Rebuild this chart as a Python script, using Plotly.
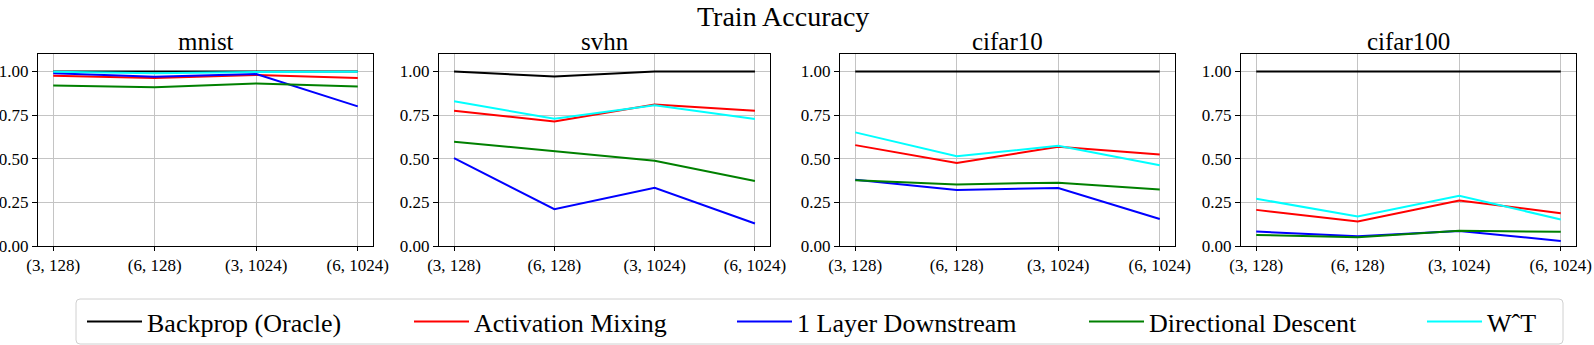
import plotly.graph_objects as go

W, H = 1594, 345

configs = ["(3, 128)", "(6, 128)", "(3, 1024)", "(6, 1024)"]
datasets = ["mnist", "svhn", "cifar10", "cifar100"]

# one row per dataset: mnist, svhn, cifar10, cifar100
backprop = [
    [1.000, 1.000, 1.000, 1.000],
    [1.000, 0.971, 1.000, 1.000],
    [1.000, 1.000, 1.000, 1.000],
    [1.000, 1.000, 1.000, 1.000],
]
act_mixing = [
    [0.975, 0.962, 0.980, 0.963],
    [0.775, 0.714, 0.810, 0.775],
    [0.578, 0.476, 0.568, 0.524],
    [0.207, 0.140, 0.261, 0.188],
]
one_layer = [
    [0.990, 0.969, 0.985, 0.800],
    [0.503, 0.211, 0.334, 0.129],
    [0.380, 0.321, 0.332, 0.155],
    [0.083, 0.056, 0.086, 0.029],
]
directional = [
    [0.919, 0.910, 0.931, 0.914],
    [0.597, 0.543, 0.489, 0.372],
    [0.376, 0.353, 0.363, 0.324],
    [0.063, 0.050, 0.088, 0.081],
]
w_t = [
    [0.998, 0.990, 0.997, 0.998],
    [0.829, 0.729, 0.806, 0.727],
    [0.651, 0.514, 0.574, 0.463],
    [0.271, 0.169, 0.288, 0.152],
]

methods = [
    ("Backprop (Oracle)", backprop, "#000000"),
    ("Activation Mixing", act_mixing, "#ff0000"),
    ("1 Layer Downstream", one_layer, "#0000ff"),
    ("Directional Descent", directional, "#008000"),
    ("W\u02c6T", w_t, "#00ffff"),
]

FONT = "Liberation Serif"

# panel edges in pixels
panels_px = [(38, 373), (439, 770), (840, 1175), (1241, 1576)]
y_dom = [1 - 246 / H, 1 - 54 / H]
legend_px = [82, 409, 732, 1084, 1422]

fig = go.Figure()

for i, ds in enumerate(datasets):
    sfx = "" if i == 0 else str(i + 1)
    for j, (name, vals, col) in enumerate(methods):
        lg = "legend" if j == 0 else "legend" + str(j + 1)
        fig.add_trace(go.Scatter(
            x=configs, y=vals[i], mode="lines", name=name,
            line=dict(color=col, width=2),
            xaxis="x" + sfx, yaxis="y" + sfx,
            legend=lg, showlegend=(i == 0),
        ))
    x0, x1 = panels_px[i]
    fig.layout["xaxis" + sfx] = dict(
        domain=[x0 / W, x1 / W], anchor="y" + sfx, automargin=False,
        type="category", range=[-0.15, 3.15],
        showline=True, mirror=True, linecolor="black", linewidth=1,
        ticks="outside", ticklen=4, tickcolor="black",
        showgrid=True, gridcolor="#c4c4c4", gridwidth=1,
        tickfont=dict(family=FONT, size=17, color="black"),
        zeroline=False,
    )
    fig.layout["yaxis" + sfx] = dict(
        domain=y_dom, anchor="x" + sfx, automargin=False,
        range=[0, 1.1], tickvals=[0, 0.25, 0.5, 0.75, 1.0], tickformat=".2f",
        showline=True, mirror=True, linecolor="black", linewidth=1,
        ticks="outside", ticklen=5, tickcolor="black",
        showgrid=True, gridcolor="#c4c4c4", gridwidth=1,
        tickfont=dict(family=FONT, size=17, color="black"),
        zeroline=False,
    )
    fig.add_annotation(
        text=ds, x=(x0 + x1) / 2 / W, y=1 - 41 / H,
        xref="paper", yref="paper", xanchor="center", yanchor="middle",
        showarrow=False, font=dict(family=FONT, size=25, color="black"),
    )

fig.add_annotation(
    text="Train Accuracy", x=783 / W, y=1 - 17 / H,
    xref="paper", yref="paper", xanchor="center", yanchor="middle",
    showarrow=False, font=dict(family=FONT, size=28, color="black"),
)

# legend frame
lx0, lx1, ly0, ly1, r = 76 / W, 1563 / W, 1 - 344 / H, 1 - 299 / H, 4
rx, ry = r / W, r / H
frame = (
    f"M{lx0 + rx},{ly1} L{lx1 - rx},{ly1} Q{lx1},{ly1} {lx1},{ly1 - ry} "
    f"L{lx1},{ly0 + ry} Q{lx1},{ly0} {lx1 - rx},{ly0} "
    f"L{lx0 + rx},{ly0} Q{lx0},{ly0} {lx0},{ly0 + ry} "
    f"L{lx0},{ly1 - ry} Q{lx0},{ly1} {lx0 + rx},{ly1} Z"
)
fig.add_shape(type="path", path=frame, xref="paper", yref="paper",
              line=dict(color="#d0d0d0", width=1), fillcolor="white", layer="below")

for j, px in enumerate(legend_px):
    key = "legend" if j == 0 else "legend" + str(j + 1)
    fig.layout[key] = dict(
        x=px / W, y=1 - 321.5 / H, xanchor="left", yanchor="middle",
        orientation="h", bgcolor="rgba(0,0,0,0)", borderwidth=0,
        itemwidth=55, font=dict(family=FONT, size=26, color="black"),
    )

fig.update_layout(
    width=W, height=H, margin=dict(l=0, r=0, t=0, b=0),
    paper_bgcolor="white", plot_bgcolor="white",
    font=dict(family=FONT, color="black"),
)

fig.write_html(
    "out.html",
    config={"displayModeBar": False},
    post_script="document.body.style.margin='0';document.body.style.overflow='hidden';",
)
